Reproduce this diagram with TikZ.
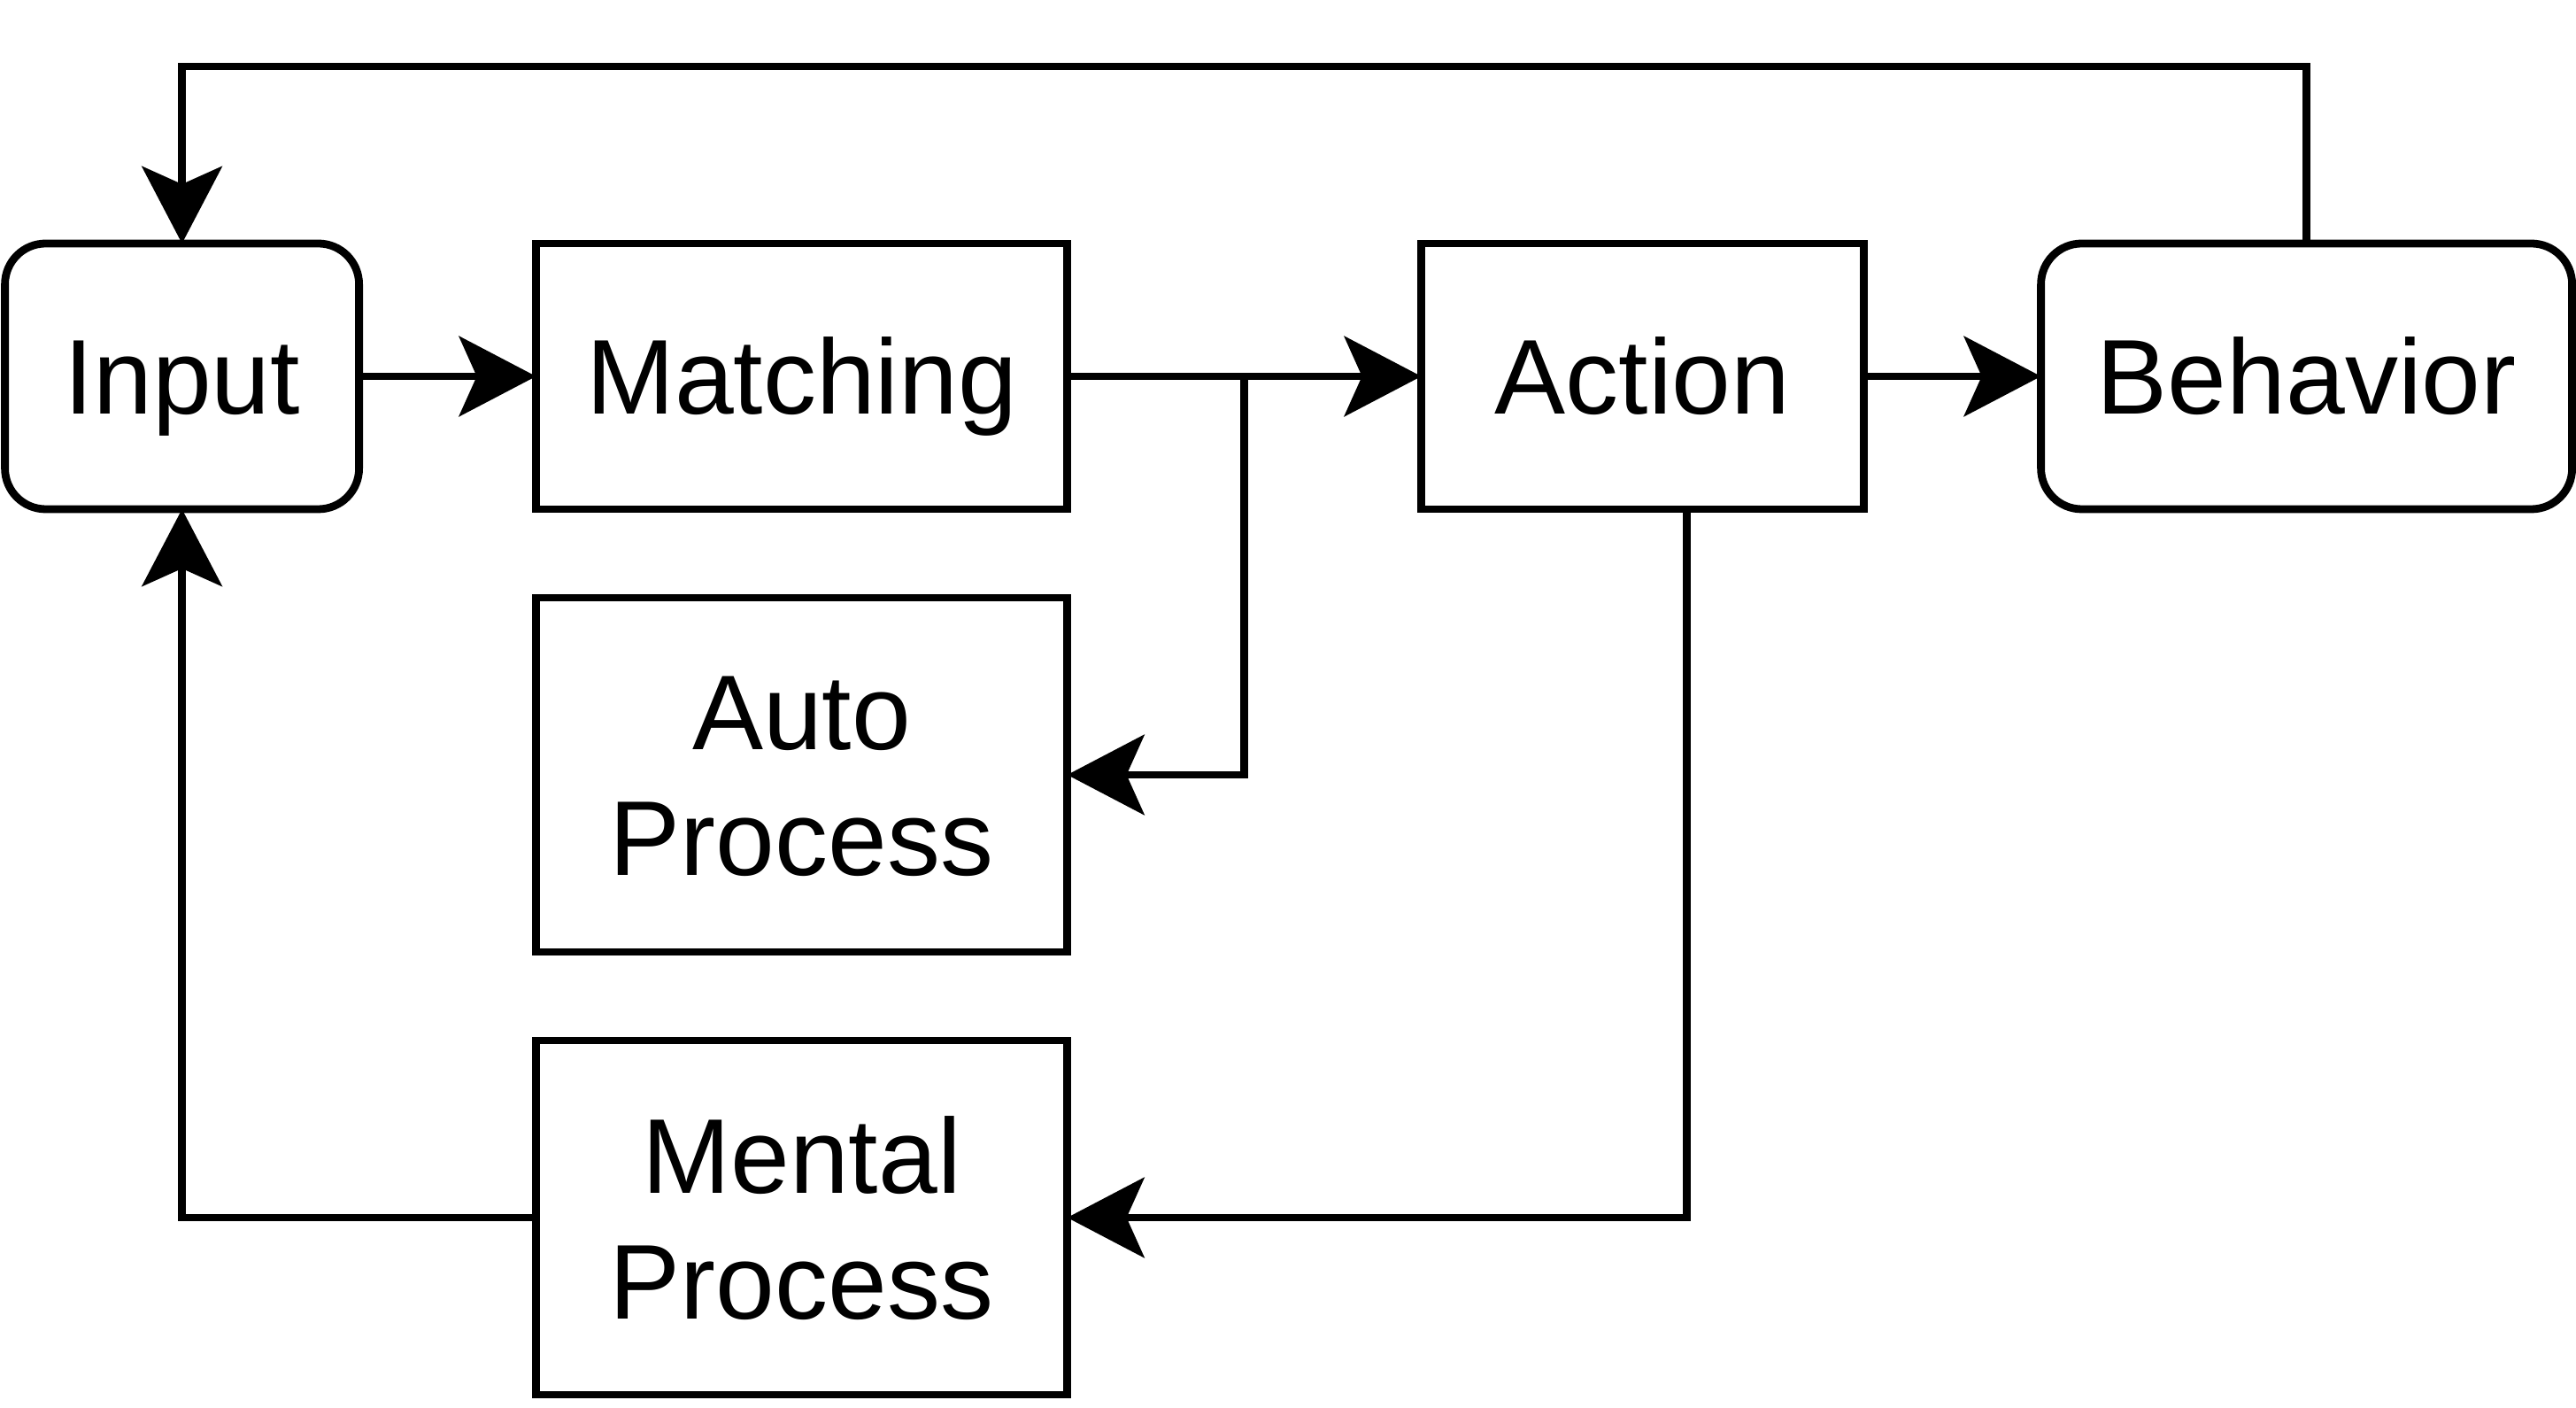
\documentclass[tikz,border=0pt]{standalone}
\usepackage{fontspec}
\setmainfont{Liberation Sans}
\usetikzlibrary{positioning,arrows.meta}

\begin{document}
\begin{tikzpicture}[
		node distance={50pt},
		line width=2.2pt,
		>={Stealth[length=21.75pt, width=22.6pt, inset=5pt]},
		main/.style = {draw, rectangle, outer sep=0pt, inner sep=1pt, minimum height=75pt, align=center, text height=21.5pt, text depth=0pt, font=\fontsize{30}{35.5}\selectfont},
		soft/.style = {main, rounded corners=11.5pt},
		tall/.style = {main, minimum width=150pt, minimum height=100pt, text height=57pt}
	]
	\useasboundingbox (0,0) rectangle (727.5pt,-397.5pt);
	\node[soft, minimum width=100pt] (in) at (51.4pt,-106.25pt) {Input};
	\node[main, minimum width=150pt] (match) [right=of in] {Matching};
	\node[main, minimum width=125pt] (act) [right=100pt of match] {Action};
	\node[soft, minimum width=150pt] (beh) [right=of act] {Behavior};
	\node[tall] (auto) [below=25pt of match] {Auto\\Process};
	\node[tall] (mental) [below=25pt of auto] {Mental\\Process};
	% Draw the forward edges.
	\draw[->] (in) -- (match);
	\draw[->] (match) -- coordinate[midway] (split) (act);
	\draw[->] (act) -- (beh);
	\draw[->] (split) |- (auto);
	% Draw the feedback edges.
	\draw[->] (beh.north) -- ++(0,50pt) -| (in.north);
	\draw[->] ([xshift=12.5pt]act.south) |- (mental);
	\draw[->] (mental) -| (in);
\end{tikzpicture}
\end{document}
